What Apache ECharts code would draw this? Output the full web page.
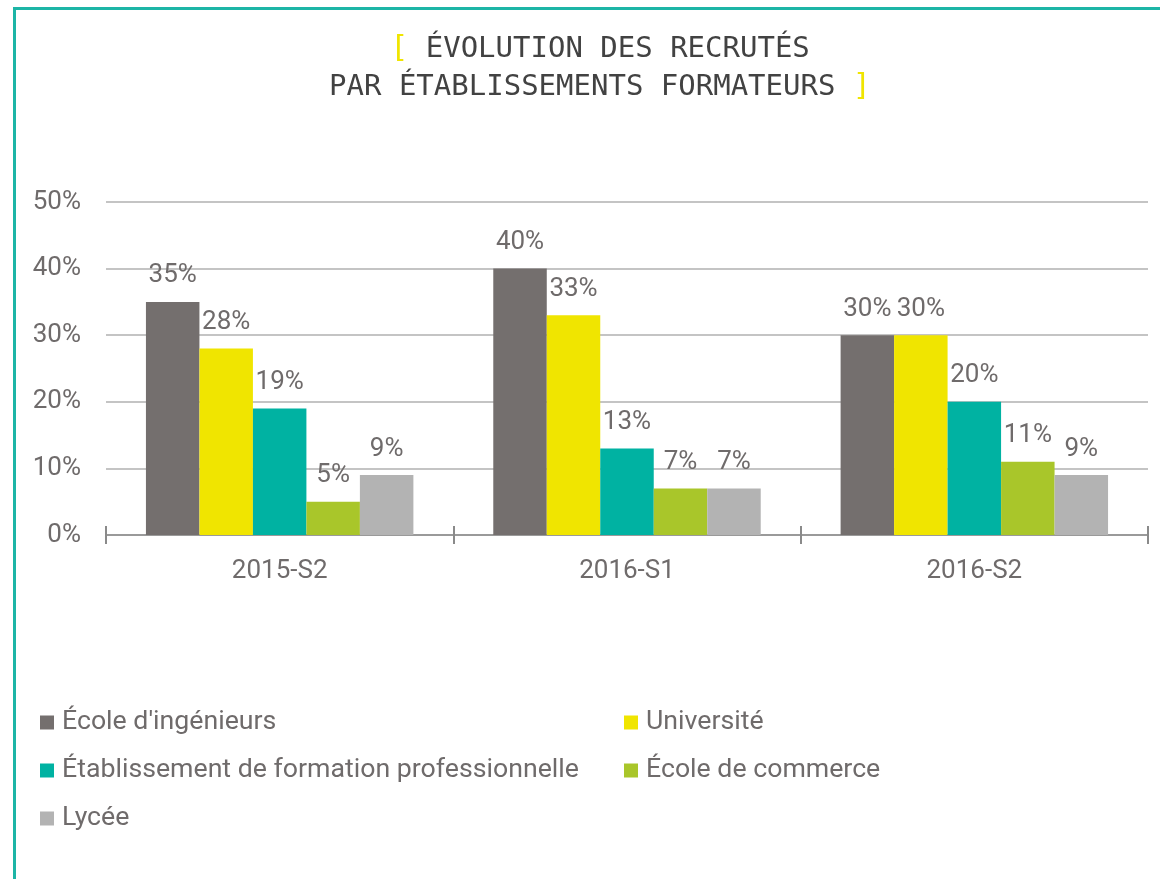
<!DOCTYPE html>
<html>
<head>
<meta charset="utf-8">
<script src="https://cdn.jsdelivr.net/npm/echarts@6/dist/echarts.min.js"></script>
<style>
html,body{margin:0;padding:0;background:#fff;}
#c{width:1160px;height:879px;}
</style>
</head>
<body>
<div id="c"></div>
<script>
const categories = ['2015-S2', '2016-S1', '2016-S2'];
const seriesNames = ["École d'ingénieurs", 'Université', 'Établissement de formation professionnelle', 'École de commerce', 'Lycée'];
const ecoleIngenieurs = [35, 40, 30];
const universite = [28, 33, 30];
const etabFormationPro = [19, 13, 20];
const ecoleCommerce = [5, 7, 11];
const lycee = [9, 7, 9];
const yTicks = [0, 10, 20, 30, 40, 50];
const colors = ['#746f6e', '#f0e500', '#00b2a2', '#a9c62a', '#b3b3b3'];

const seriesValues = [ecoleIngenieurs, universite, etabFormationPro, ecoleCommerce, lycee];
const txt = '#6f6b6b';
const font = 'Roboto';

const chart = echarts.init(document.getElementById('c'));
chart.setOption({
  backgroundColor: '#fff',
  animation: false,
  color: colors,
  title: {
    text: '{b|[} ÉVOLUTION DES RECRUTÉS\nPAR ÉTABLISSEMENTS FORMATEURS {b|]}',
    left: 595,
    top: 25,
    textAlign: 'center',
    textStyle: {
      fontFamily: 'DejaVu Sans Mono',
      fontSize: 29,
      fontWeight: 'normal',
      color: '#424242',
      lineHeight: 38,
      align: 'center',
      rich: {
        b: { color: '#f0e500', fontFamily: 'DejaVu Sans Mono', fontSize: 30, lineHeight: 38 }
      }
    }
  },
  graphic: [
    {
      type: 'polyline',
      shape: { points: [[14.5, 879], [14.5, 8.5], [1160, 8.5]] },
      style: { stroke: '#1db5a6', lineWidth: 3, fill: null }
    }
  ],
  legend: [
    {
      data: [seriesNames[0], seriesNames[2], seriesNames[4]],
      orient: 'vertical',
      left: 35,
      top: 704,
      itemGap: 21,
      itemWidth: 14,
      itemHeight: 14,
      icon: 'rect',
      textStyle: { fontFamily: font, fontSize: 26.7, color: txt, padding: [0, 0, 0, 3] }
    },
    {
      data: [seriesNames[1], seriesNames[3]],
      orient: 'vertical',
      left: 619,
      top: 704,
      itemGap: 21,
      itemWidth: 14,
      itemHeight: 14,
      icon: 'rect',
      textStyle: { fontFamily: font, fontSize: 26.7, color: txt, padding: [0, 0, 0, 3] }
    }
  ],
  grid: { left: 106, right: 12, top: 202, bottom: 344, containLabel: false },
  xAxis: [
    {
      type: 'category',
      data: categories,
      axisLine: { lineStyle: { color: '#9a9a9a', width: 2 } },
      axisTick: { show: true, length: 9, inside: false, lineStyle: { color: '#8a8a8a', width: 2 } },
      axisLabel: { fontFamily: font, fontSize: 26, color: txt, margin: 23 }
    },
    {
      type: 'category',
      data: categories,
      position: 'bottom',
      axisLine: { show: false },
      axisTick: { show: true, length: 9, inside: true, lineStyle: { color: '#8a8a8a', width: 2 } },
      axisLabel: { show: false }
    }
  ],
  yAxis: {
    type: 'value',
    min: yTicks[0],
    max: yTicks[yTicks.length - 1],
    interval: 10,
    axisLine: { show: false },
    axisTick: { show: false },
    splitLine: { lineStyle: { color: '#c4c4c4', width: 2 } },
    axisLabel: { fontFamily: font, fontSize: 26, color: txt, margin: 25, formatter: '{value}%' }
  },
  series: seriesNames.map((name, i) => ({
    name: name,
    type: 'bar',
    data: seriesValues[i],
    barGap: '0%',
    barCategoryGap: '23%',
    itemStyle: { color: colors[i] },
    label: {
      show: true,
      position: 'top',
      distance: 13,
      formatter: '{c}%',
      fontFamily: font,
      fontSize: 26,
      color: txt
    }
  }))
});
</script>
</body>
</html>
